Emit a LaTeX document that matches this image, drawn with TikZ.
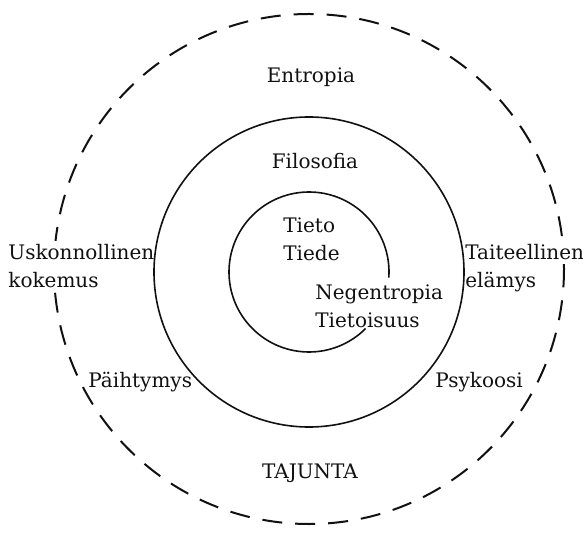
\documentclass[tikz,border=0pt]{standalone}
\usepackage{fontspec}
\setmainfont{DejaVu Serif}
\usepackage{xcolor}
\definecolor{inkcolor}{HTML}{111111}

\begin{document}
\begin{tikzpicture}[x=0.5pt, y=0.5pt,
    label text/.style={inkcolor, inner sep=0pt, font=\fontsize{10}{14}\selectfont},
    two lines/.style={label text, align=left, anchor=base west},
    masked/.style={fill=white, inner sep=2pt},
    ring/.style={inkcolor, line width=0.8pt}]
            \useasboundingbox (-309,-263) rectangle (274,272);

            % Outer dashed ring
            \draw[inkcolor, line width=1pt, dash pattern=on 10pt off 6.5pt] (0,3) circle (255);

            % Labels outside (they break the dashed ring)
            \node[label text, anchor=base] (entropia) at (2,189) {Entropia};
            \node[label text, anchor=base] (tajunta) at (1,-206) {TAJUNTA};
            \node[two lines, masked] (uskonnollinen) at (-305,-16) {Uskonnollinen\\kokemus};
            \node[label text, masked, anchor=base west] (taiteellinen) at (152,12) {Taiteellinen};
            \node[label text, masked, anchor=base west] (elamys) at (152,-16) {elämys};

            % Middle ring
            \draw[ring] (0,0) circle (155);

            % Inner spiral
            \draw[ring] (-45:80) arc[start angle=-45, end angle=-364, radius=80];

            % Labels inside the spiral (base = last line)
            \node[two lines] (tieto) at (-26,11) {Tieto\\Tiede};
            \node[two lines] (negentropia) at (6,-55) {Negentropia\\Tietoisuus};

            % Labels between the rings
            \node[label text, anchor=base] (filosofia) at (6,103) {Filosofia};
            \node[label text, anchor=base west] (paihtymys) at (-221,-115) {Päihtymys};
            \node[label text, anchor=base west] (psykoosi) at (126,-115) {Psykoosi};
        \end{tikzpicture}
\end{document}
